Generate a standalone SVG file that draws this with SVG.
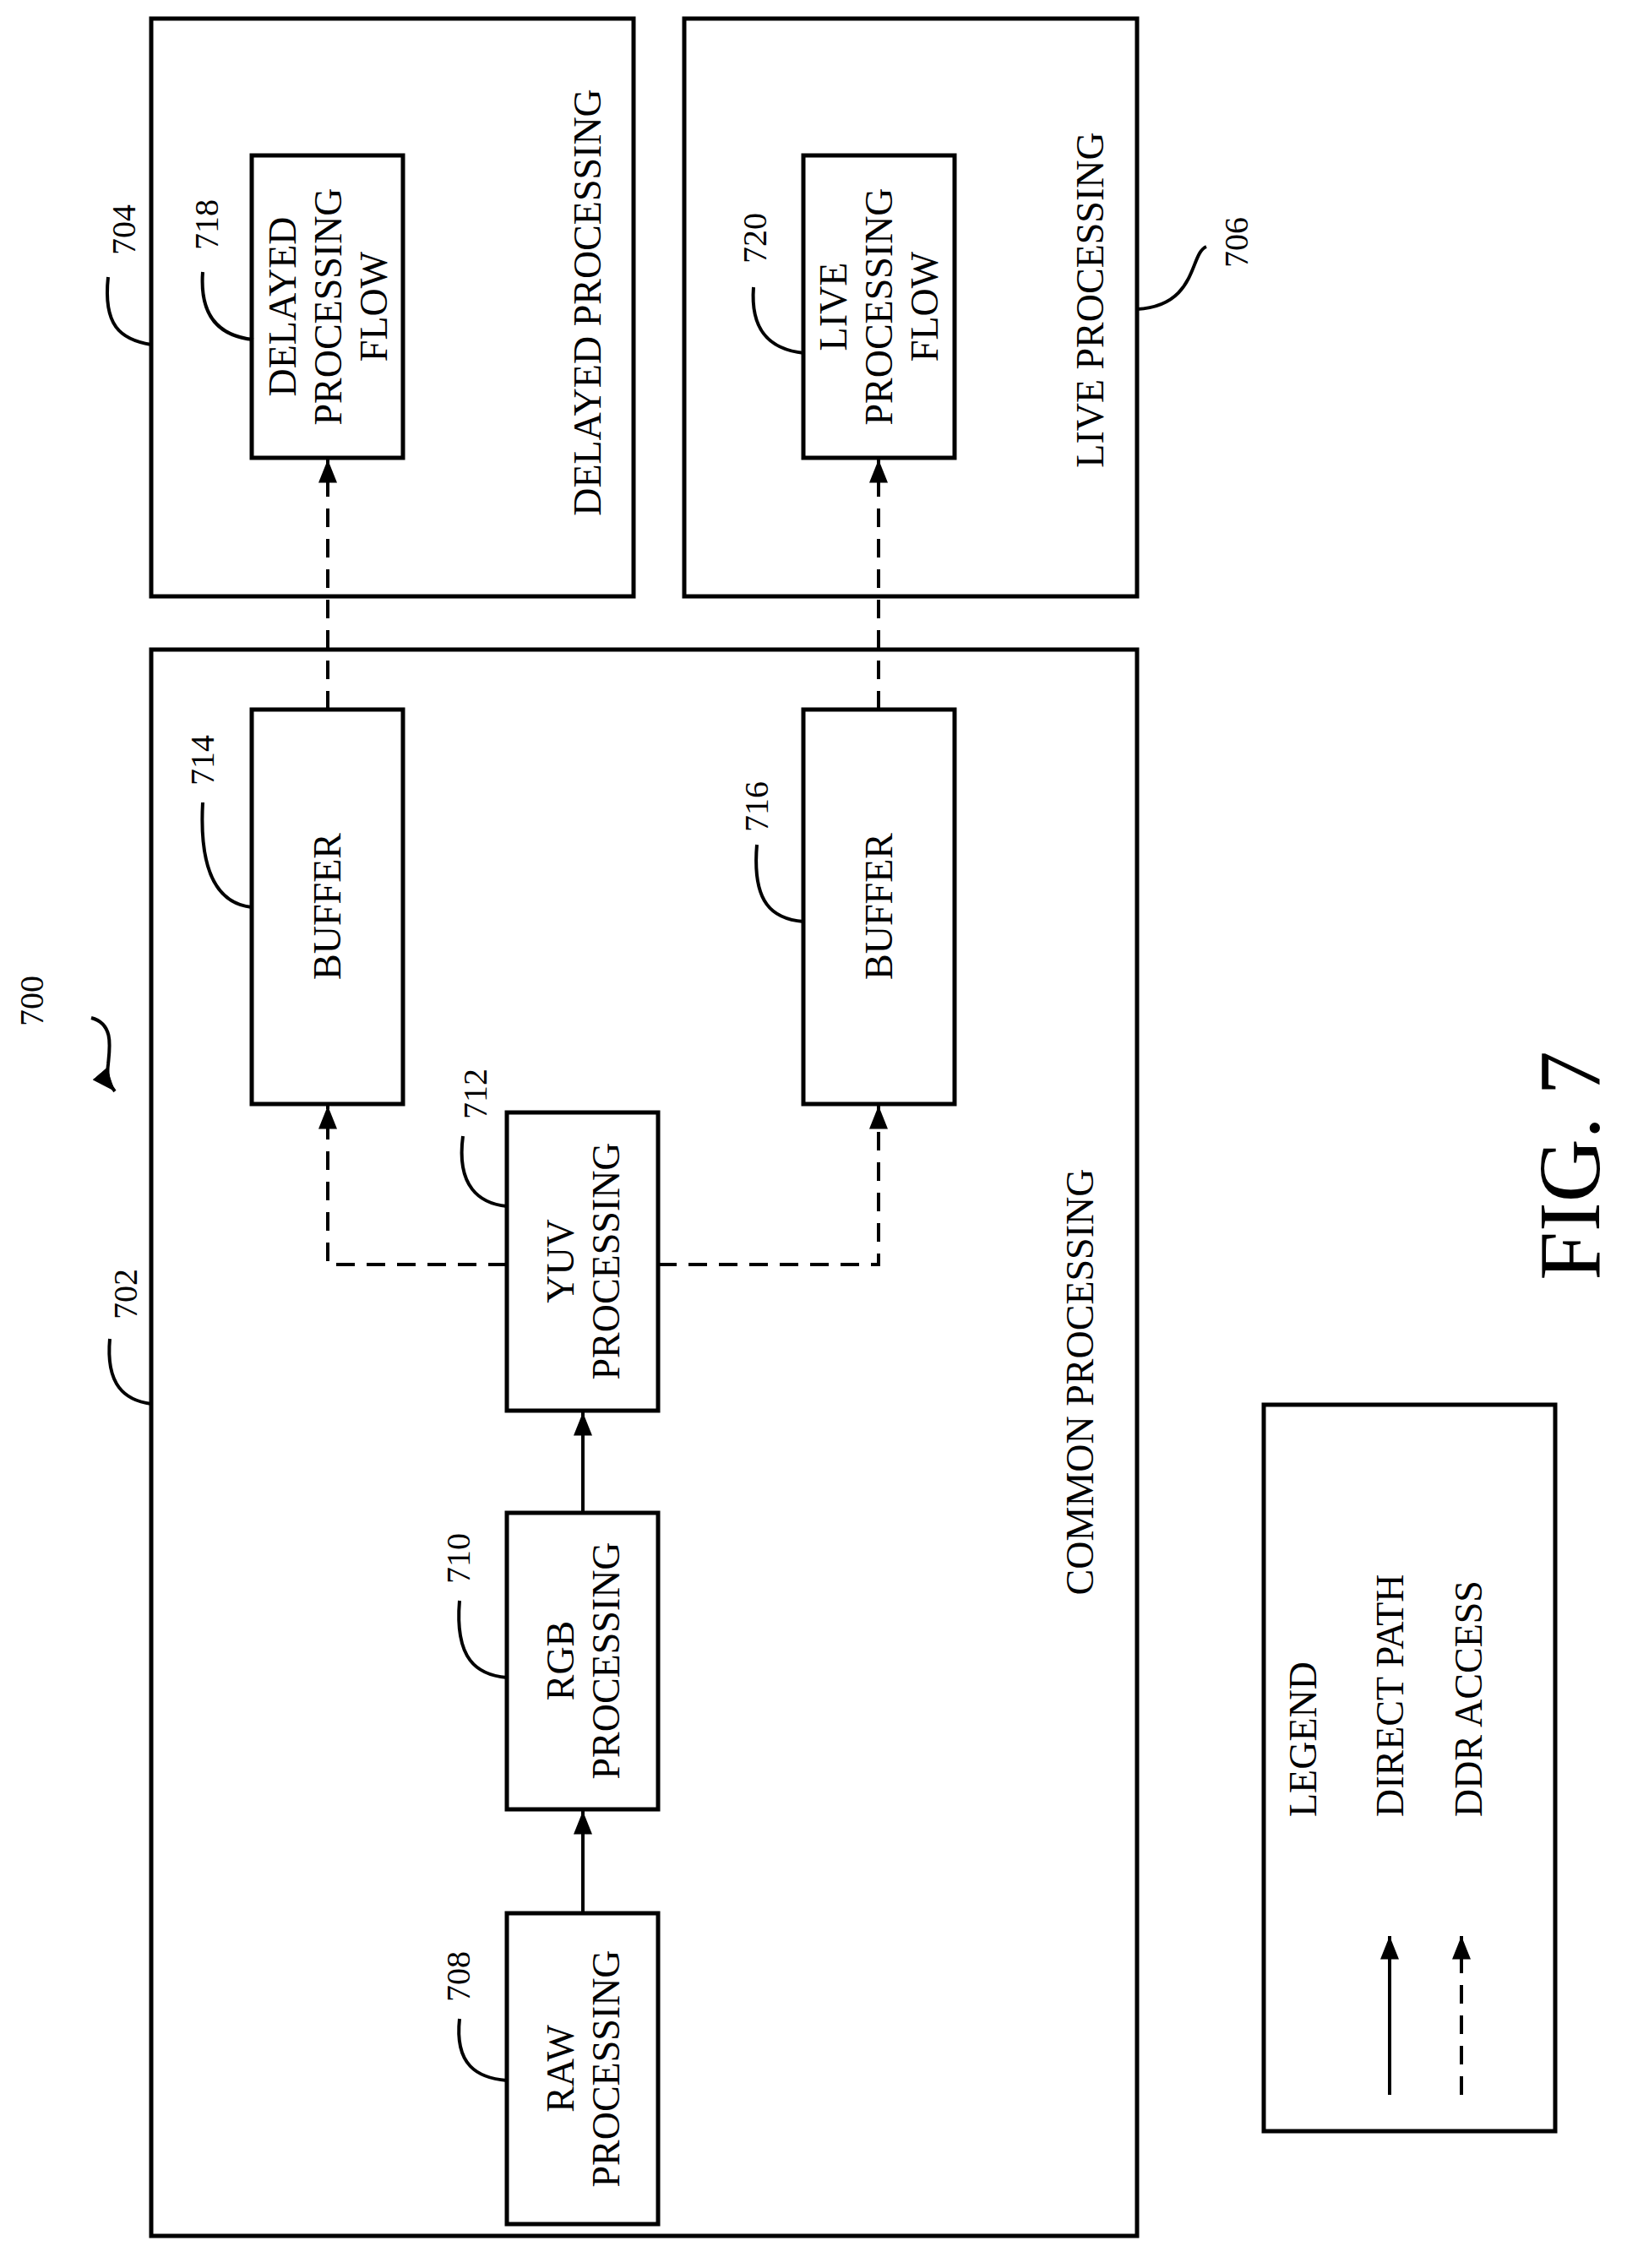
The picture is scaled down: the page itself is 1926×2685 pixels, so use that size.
<svg xmlns="http://www.w3.org/2000/svg" width="1926" height="2685" viewBox="0 0 1926 2685">
<style>
.b{fill:none;stroke:#000;stroke-width:5}
.l{fill:none;stroke:#000;stroke-width:4}
.d{stroke-dasharray:22,14}
text{font-family:"Liberation Serif","Times New Roman",serif;fill:#000;text-anchor:middle}
.t{font-size:46px}
.n{font-size:40px}
</style>
<defs>
<marker id="ah" viewBox="0 0 20 16" refX="20" refY="8" markerWidth="28" markerHeight="22" orient="auto" markerUnits="userSpaceOnUse"><path d="M0,0L20,8L0,16z"/></marker></defs>
<rect width="1926" height="2685" fill="#fff"/>
<g id="n702"><rect class="b" x="179" y="769" width="1167" height="1878"/><text class="t" transform="translate(1294,1636) rotate(-90)">COMMON PROCESSING</text></g>
<g id="n704"><rect class="b" x="179" y="22" width="571" height="684"/><text class="t" transform="translate(711,358) rotate(-90)">DELAYED PROCESSING</text></g>
<g id="n706"><rect class="b" x="810" y="22" width="536" height="684"/><text class="t" transform="translate(1306,355) rotate(-90)">LIVE PROCESSING</text></g>
<g id="n718"><rect class="b" x="298" y="184" width="179" height="358"/><text class="t" transform="translate(350,363) rotate(-90)">DELAYED</text><text class="t" transform="translate(404,363) rotate(-90)">PROCESSING</text><text class="t" transform="translate(458,363) rotate(-90)">FLOW</text></g>
<g id="n720"><rect class="b" x="951" y="184" width="179" height="358"/><text class="t" transform="translate(1002,363) rotate(-90)">LIVE</text><text class="t" transform="translate(1056,363) rotate(-90)">PROCESSING</text><text class="t" transform="translate(1110,363) rotate(-90)">FLOW</text></g>
<g id="n714"><rect class="b" x="298" y="840" width="179" height="467"/><text class="t" transform="translate(403,1073) rotate(-90)">BUFFER</text></g>
<g id="n716"><rect class="b" x="951" y="840" width="179" height="467"/><text class="t" transform="translate(1056,1073) rotate(-90)">BUFFER</text></g>
<g id="n712"><rect class="b" x="600" y="1317" width="179" height="353"/><text class="t" transform="translate(679,1493) rotate(-90)">YUV</text><text class="t" transform="translate(733,1493) rotate(-90)">PROCESSING</text></g>
<g id="n710"><rect class="b" x="600" y="1791" width="179" height="351"/><text class="t" transform="translate(679,1966) rotate(-90)">RGB</text><text class="t" transform="translate(733,1966) rotate(-90)">PROCESSING</text></g>
<g id="n708"><rect class="b" x="600" y="2265" width="179" height="368"/><text class="t" transform="translate(679,2449) rotate(-90)">RAW</text><text class="t" transform="translate(733,2449) rotate(-90)">PROCESSING</text></g>
<g id="legend"><rect class="b" x="1496" y="1663" width="345" height="860"/>
<text class="t" style="text-anchor:start" transform="translate(1558,2151) rotate(-90)">LEGEND</text>
<text class="t" style="text-anchor:start" transform="translate(1661,2151) rotate(-90)">DIRECT PATH</text>
<text class="t" style="text-anchor:start" transform="translate(1754,2151) rotate(-90)">DDR ACCESS</text>
<line class="l" x1="1645" y1="2480" x2="1645" y2="2292" marker-end="url(#ah)"/>
<line class="l d" x1="1730" y1="2480" x2="1730" y2="2292" marker-end="url(#ah)"/>
</g>
<g id="connectors">
<line class="l" x1="690" y1="2265" x2="690" y2="2144" marker-end="url(#ah)"/>
<line class="l" x1="690" y1="1791" x2="690" y2="1672" marker-end="url(#ah)"/>
<path class="l d" d="M600,1497H388V1309" marker-end="url(#ah)"/>
<path class="l d" d="M779,1497H1040V1309" marker-end="url(#ah)"/>
<line class="l d" x1="388" y1="840" x2="388" y2="544" marker-end="url(#ah)"/>
<line class="l d" x1="1040" y1="840" x2="1040" y2="544" marker-end="url(#ah)"/>
</g>
<g id="labels">
<text class="n" transform="translate(160,272) rotate(-90)">704</text><path class="l" d="M128,328C122,385 142,402 179,408"/>
<text class="n" transform="translate(258,266) rotate(-90)">718</text><path class="l" d="M240,322C236,375 260,398 300,402"/>
<text class="n" transform="translate(907,282) rotate(-90)">720</text><path class="l" d="M892,340C888,392 912,414 952,418"/>
<text class="n" transform="translate(1477,287) rotate(-90)">706</text><path class="l" d="M1428,292C1408,300 1418,362 1346,366"/>
<text class="n" transform="translate(51,1185) rotate(-90)">700</text><path class="l" d="M108,1205C135,1212 130,1240 128,1260C126,1275 130,1285 136,1292" marker-end="url(#ah)"/>
<text class="n" transform="translate(162,1532) rotate(-90)">702</text><path class="l" d="M130,1585C125,1640 148,1658 179,1662"/>
<text class="n" transform="translate(253,900) rotate(-90)">714</text><path class="l" d="M240,950C235,1040 262,1070 298,1074"/>
<text class="n" transform="translate(909,955) rotate(-90)">716</text><path class="l" d="M896,1000C890,1070 915,1088 951,1091"/>
<text class="n" transform="translate(576,1295) rotate(-90)">712</text><path class="l" d="M548,1345C540,1405 568,1425 600,1428"/>
<text class="n" transform="translate(556,1845) rotate(-90)">710</text><path class="l" d="M544,1895C538,1965 565,1983 600,1986"/>
<text class="n" transform="translate(556,2340) rotate(-90)">708</text><path class="l" d="M544,2390C538,2445 565,2460 600,2463"/>
<text style="font-size:104px" transform="translate(1893,1380) rotate(-90)">FIG. 7</text>
</g>
</svg>
